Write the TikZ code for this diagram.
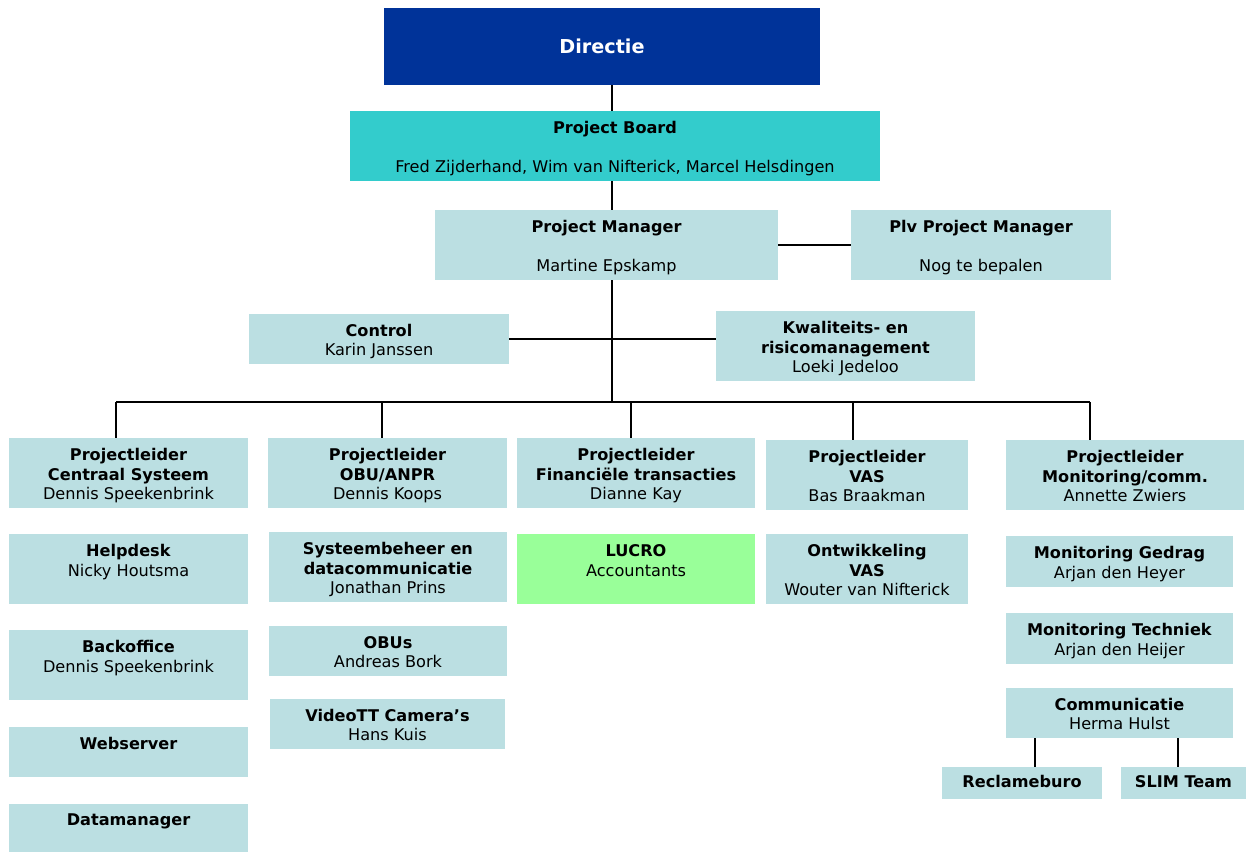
\documentclass[tikz,border=0pt]{standalone}
\usepackage{fontspec}
\setmainfont{DejaVu Sans}
\usetikzlibrary{calc}

\definecolor{darkblue}{HTML}{003399}
\definecolor{turquoise}{HTML}{33CCCC}
\definecolor{paleblue}{HTML}{BBDFE2}
\definecolor{palegreen}{HTML}{99FF99}

\newcommand{\boxfont}{\fontsize{12.1}{14.6}\selectfont}
% bold first line with a fixed top
\newcommand{\hd}[1]{\rule{0pt}{13.7pt}\textbf{#1}}

\tikzset{
  box/.style={fill=paleblue, inner sep=0pt, align=center, font=\boxfont,
              execute at end node={\rule[-3pt]{0pt}{3pt}}},
  wh/.style 2 args={minimum width=#1*0.75pt, minimum height=#2*0.75pt},
  conn/.style={draw=black, line width=1.1pt},
}

\begin{document}
\begin{tikzpicture}[x=0.75pt, y=-0.75pt]
    \useasboundingbox (0,0) rectangle (1247,852);

    % Top of the organisation
    \node[box, wh={436}{77}, fill=darkblue, text=white,
          font=\fontsize{14.4}{16}\selectfont\bfseries] (directie) at (602,46.5) {\rule{0pt}{13pt}Directie};
    \node[box, wh={530}{70}, fill=turquoise] (board) at (615,146)
        {\hd{Project Board}\\\mbox{}\\Fred Zijderhand, Wim van Nifterick, Marcel Helsdingen};
    \node[box, wh={343}{70}] (pm) at (606.5,245) {\hd{Project Manager}\\\mbox{}\\Martine Epskamp};
    \node[box, wh={260}{70}] (plv) at (981,245) {\hd{Plv Project Manager}\\\mbox{}\\Nog te bepalen};

    % Staff
    \node[box, wh={260}{50}] (control) at (379,339) {\hd{Control}\\Karin Janssen};
    \node[box, wh={259}{70}] (kwal) at (845.5,346)
        {\hd{Kwaliteits- en}\\\textbf{risicomanagement}\\Loeki Jedeloo};

    % Projectleiders
    \node[box, wh={239}{70}] (pl-cs) at (128.5,473)
        {\hd{Projectleider}\\\textbf{Centraal Systeem}\\Dennis Speekenbrink};
    \node[box, wh={239}{70}] (pl-obu) at (387.5,473)
        {\hd{Projectleider}\\\textbf{OBU/ANPR}\\Dennis Koops};
    \node[box, wh={238}{70}] (pl-fin) at (636,473)
        {\hd{Projectleider}\\\textbf{Financiële transacties}\\Dianne Kay};
    \node[box, wh={202}{70}] (pl-vas) at (867,475)
        {\hd{Projectleider}\\\textbf{VAS}\\Bas Braakman};
    \node[box, wh={238}{70}] (pl-mon) at (1125,475)
        {\hd{Projectleider}\\\textbf{Monitoring/comm.}\\Annette Zwiers};

    % Centraal Systeem
    \node[box, wh={239}{70}] (helpdesk) at (128.5,569) {\hd{Helpdesk}\\Nicky Houtsma\\\mbox{}};
    \node[box, wh={239}{70}] (backoffice) at (128.5,665) {\hd{Backoffice}\\Dennis Speekenbrink\\\mbox{}};
    \node[box, wh={239}{50}] (webserver) at (128.5,752) {\hd{Webserver}\\\mbox{}};
    \node[box, wh={239}{48}] (datamanager) at (128.5,828) {\hd{Datamanager}\\\mbox{}};

    % OBU/ANPR
    \node[box, wh={238}{70}] (sysbeheer) at (388,567)
        {\hd{Systeembeheer en}\\\textbf{datacommunicatie}\\Jonathan Prins};
    \node[box, wh={238}{50}] (obus) at (388,651) {\hd{OBUs}\\Andreas Bork};
    \node[box, wh={235}{50}] (videott) at (387.5,724) {\hd{VideoTT Camera’s}\\Hans Kuis};

    % Financiele transacties en VAS
    \node[box, wh={238}{70}, fill=palegreen] (lucro) at (636,569) {\hd{LUCRO}\\Accountants\\\mbox{}};
    \node[box, wh={202}{70}] (ontw) at (867,569)
        {\hd{Ontwikkeling}\\\textbf{VAS}\\Wouter van Nifterick};

    % Monitoring/comm.
    \node[box, wh={227}{51}] (mon-gedrag) at (1119.5,561.5) {\hd{Monitoring Gedrag}\\Arjan den Heyer};
    \node[box, wh={227}{51}] (mon-techniek) at (1119.5,638.5) {\hd{Monitoring Techniek}\\Arjan den Heijer};
    \node[box, wh={227}{50}] (comm) at (1119.5,713) {\hd{Communicatie}\\Herma Hulst};
    \node[box, wh={160}{32}] (reclame) at (1022,783) {\rule{0pt}{9.4pt}\textbf{Reclameburo}};
    \node[box, wh={125}{32}] (slim) at (1183.5,783) {\rule{0pt}{9.4pt}\textbf{SLIM Team}};

    % Lines
    \coordinate (spine) at (612,402);
    \draw[conn] (directie.south -| spine) -- (board.north -| spine);
    \draw[conn] (board.south -| spine) -- (pm.north -| spine);
    \draw[conn] (pm.south -| spine) -- (spine);
    \draw[conn] (pm.east) -- (plv.west);
    \draw[conn] (control.east) -- (control.east -| kwal.west);

    \coordinate (bus-a) at (116,402);
    \coordinate (bus-b) at (382,402);
    \coordinate (bus-c) at (631,402);
    \coordinate (bus-d) at (853,402);
    \coordinate (bus-e) at (1090,402);
    \draw[conn] (bus-a) -- (bus-e);
    \foreach \b/\n in {a/pl-cs, b/pl-obu, c/pl-fin, d/pl-vas, e/pl-mon}
        \draw[conn] (bus-\b) -- (bus-\b |- \n.north);

    \coordinate (tap-l) at (1035,0);
    \coordinate (tap-r) at (1178,0);
    \draw[conn] (comm.south -| tap-l) -- (reclame.north -| tap-l);
    \draw[conn] (comm.south -| tap-r) -- (slim.north -| tap-r);
\end{tikzpicture}
\end{document}
